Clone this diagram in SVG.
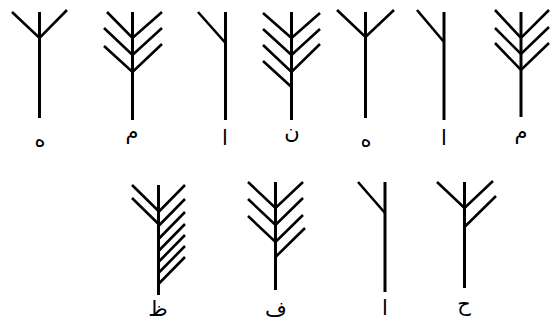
<svg xmlns="http://www.w3.org/2000/svg" width="550" height="324" viewBox="0 0 550 324">
<style>
.stem{stroke:#000;stroke-width:3;fill:none}
.br{stroke:#000;stroke-width:2.6;fill:none}
.lbl{font-family:"DejaVu Sans","Noto Sans",sans-serif;font-size:21px;fill:#000;text-anchor:middle}
</style>
<rect width="550" height="324" fill="#fff"/>
<g id="sign1">
<line class="stem" x1="39.5" y1="12" x2="39.5" y2="118"/>
<path class="br" d="M12 12 L39.5 38 L67 10"/>
<text class="lbl" x="40" y="147">ه</text>
</g>
<g id="sign2">
<line class="stem" x1="132.5" y1="12" x2="132.5" y2="120"/>
<path class="br" d="M107 12 L132.5 38 L162 12 M104 28 L132.5 55 L162 28 M104 46 L132.5 72 L162 44"/>
<text class="lbl" x="132" y="139">م</text>
</g>
<g id="sign3">
<line class="stem" x1="225.5" y1="12" x2="225.5" y2="120"/>
<path class="br" d="M198 12 L225.5 43"/>
<text class="lbl" x="225" y="145">ا</text>
</g>
<g id="sign4">
<line class="stem" x1="291.5" y1="12" x2="291.5" y2="120"/>
<path class="br" d="M263 13 L291.5 38 L320 13 M263 29 L291.5 55 L320 29 M263 45 L291.5 72 L320 44 M263 61 L291.5 87"/>
<text class="lbl" x="292" y="139">ن</text>
</g>
<g id="sign5">
<line class="stem" x1="365.5" y1="12" x2="365.5" y2="118"/>
<path class="br" d="M337 10 L365.5 37 L394 10"/>
<text class="lbl" x="366" y="147">ه</text>
</g>
<g id="sign6">
<line class="stem" x1="444" y1="12" x2="444" y2="120"/>
<path class="br" d="M417 10 L444 42"/>
<text class="lbl" x="444" y="145">ا</text>
</g>
<g id="sign7">
<line class="stem" x1="521" y1="12" x2="521" y2="117"/>
<path class="br" d="M495 10 L521 38 L549 10 M495 28 L521 54 L549 27 M495 43 L521 70 L549 43"/>
<text class="lbl" x="521" y="139">م</text>
</g>
<g id="sign8">
<line class="stem" x1="158.5" y1="185" x2="158.5" y2="295"/>
<path class="br" d="M132 185 L158.5 211 M132 198 L158.5 224 M185 185 L158.5 212 M185 199 L158.5 226 M185 212 L158.5 239 M185 224 L158.5 251 M185 235 L158.5 262 M185 246 L158.5 273 M185 257 L158.5 284"/>
<text class="lbl" x="158" y="316">ظ</text>
</g>
<g id="sign9">
<line class="stem" x1="275.5" y1="182" x2="275.5" y2="290"/>
<path class="br" d="M248 182 L275.5 208 L303 182 M248 199 L275.5 225 L303 198 M248 216 L275.5 242 L303 215 M305 228 L275.5 257"/>
<text class="lbl" x="276" y="316">ف</text>
</g>
<g id="sign10">
<line class="stem" x1="385" y1="182" x2="385" y2="292"/>
<path class="br" d="M358 182 L385 213"/>
<text class="lbl" x="385" y="315">ا</text>
</g>
<g id="sign11">
<line class="stem" x1="464.5" y1="182" x2="464.5" y2="288"/>
<path class="br" d="M437 182 L464.5 208 L493 181 M496 196 L464.5 227"/>
<text class="lbl" x="464" y="311">ح</text>
</g>
</svg>
